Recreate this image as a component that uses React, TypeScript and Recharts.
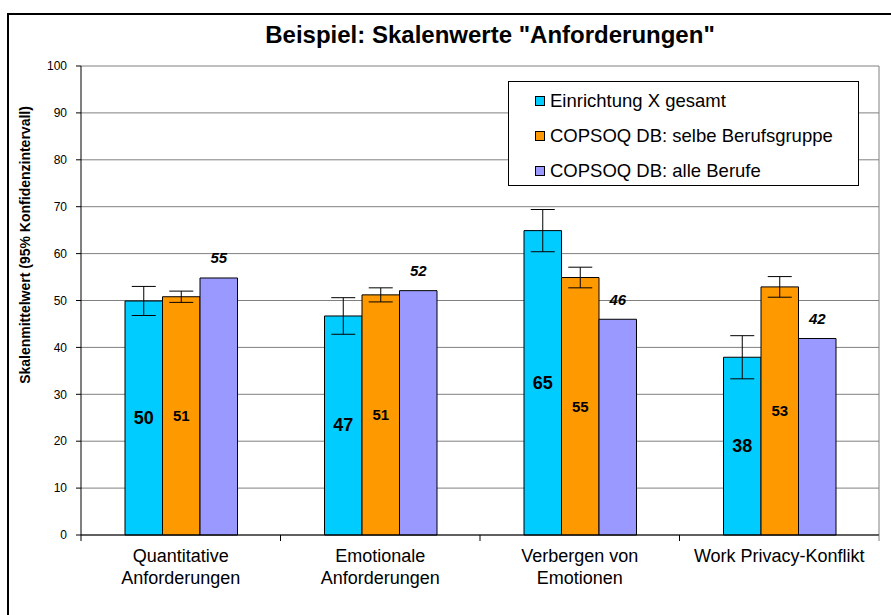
import { Bar, BarChart, CartesianGrid, ErrorBar, LabelList, XAxis, YAxis } from 'recharts';

const categories = [
  'Quantitative\nAnforderungen',
  'Emotionale\nAnforderungen',
  'Verbergen von\nEmotionen',
  'Work Privacy-Konflikt',
];

const einrichtung = [49.9, 46.7, 64.9, 37.9];
const einrichtungCI = [3.1, 3.9, 4.5, 4.6];
const berufsgruppe = [50.8, 51.2, 54.9, 52.9];
const berufsgruppeCI = [1.2, 1.5, 2.2, 2.2];
const alleBerufe = [54.8, 52.1, 46.0, 41.9];

const yTicks = [0, 10, 20, 30, 40, 50, 60, 70, 80, 90, 100];

const SERIES = [
  { key: 'einrichtung', name: 'Einrichtung X gesamt', color: '#00ccff' },
  { key: 'berufsgruppe', name: 'COPSOQ DB: selbe Berufsgruppe', color: '#ff9900' },
  { key: 'alle', name: 'COPSOQ DB: alle Berufe', color: '#9999ff' },
];

const data = categories.map((category, i) => ({
  category,
  einrichtung: einrichtung[i],
  einrichtungCI: einrichtungCI[i],
  berufsgruppe: berufsgruppe[i],
  berufsgruppeCI: berufsgruppeCI[i],
  alle: alleBerufe[i],
}));

const FONT = '"Liberation Sans", Arial, Helvetica, sans-serif';
const WIDTH = 891;
const HEIGHT = 615;
const MARGIN = { top: 66, right: 12, bottom: 0, left: 0 };
const Y_AXIS_WIDTH = 81;
const BAND = (WIDTH - MARGIN.right - Y_AXIS_WIDTH) / categories.length;

// eslint-disable-next-line @typescript-eslint/no-explicit-any
function CategoryTick({ x, y, payload, index }: any) {
  const lines = String(payload.value).split('\n');
  const left = x - BAND / 2;
  return (
    <g>
      <line x1={left} y1={y} x2={left} y2={y + 6} stroke="#000" />
      {index === categories.length - 1 && (
        <line x1={x + BAND / 2} y1={y} x2={x + BAND / 2} y2={y + 6} stroke="#808080" />
      )}
      <text x={x} y={y + 27} textAnchor="middle" fontSize={18} fill="#000" fontFamily={FONT}>
        {lines.map((line, i) => (
          <tspan key={i} x={x} dy={i === 0 ? 0 : 22}>
            {line}
          </tspan>
        ))}
      </text>
    </g>
  );
}

function CenterLabel(size: number) {
  // eslint-disable-next-line @typescript-eslint/no-explicit-any
  return function Label({ x, y, width, height, value }: any) {
    return (
      <text
        x={x + width / 2}
        y={y + height / 2}
        textAnchor="middle"
        dominantBaseline="central"
        fontSize={size}
        fontWeight="bold"
        fill="#000"
        fontFamily={FONT}
      >
        {Math.round(value)}
      </text>
    );
  };
}

// eslint-disable-next-line @typescript-eslint/no-explicit-any
function TopLabel({ x, y, width, value }: any) {
  return (
    <text
      x={x + width / 2}
      y={y - 20}
      textAnchor="middle"
      dominantBaseline="central"
      fontSize={15}
      fontWeight="bold"
      fontStyle="italic"
      fill="#000"
      fontFamily={FONT}
    >
      {Math.round(value)}
    </text>
  );
}

function BoxLegend() {
  return (
    <div
      style={{
        position: 'absolute',
        left: 508,
        top: 81,
        width: 351,
        height: 105,
        boxSizing: 'border-box',
        border: '1px solid #000',
        background: '#fff',
        paddingTop: 1,
        fontFamily: FONT,
      }}
    >
      {SERIES.map((s) => (
        <div
          key={s.key}
          style={{ display: 'flex', alignItems: 'center', height: 35, paddingLeft: 26, fontSize: 18.5, color: '#000' }}
        >
          <span
            style={{
              width: 8,
              height: 8,
              border: '1px solid #000',
              background: s.color,
              marginRight: 5,
            }}
          />
          <span>{s.name}</span>
        </div>
      ))}
    </div>
  );
}

export default function App() {
  return (
    <div style={{ position: 'absolute', left: 0, top: 0, width: WIDTH, height: HEIGHT, background: '#fff', overflow: 'hidden' }}>
      <div
        style={{
          position: 'absolute',
          left: 7,
          top: 13,
          width: WIDTH,
          height: HEIGHT,
          borderLeft: '2px solid #000',
          borderTop: '2px solid #000',
        }}
      />
      <div
        style={{
          position: 'absolute',
          left: 0,
          top: 21,
          width: 980,
          textAlign: 'center',
          fontFamily: FONT,
          fontWeight: 'bold',
          fontSize: 24,
          color: '#000',
        }}
      >
        Beispiel: Skalenwerte "Anforderungen"
      </div>
      <div style={{ position: 'absolute', left: 0, top: 0 }}>
        <BarChart width={WIDTH} height={HEIGHT} data={data} margin={MARGIN} barGap={0} barSize={37.5}>
          <CartesianGrid stroke="#808080" vertical verticalPoints={[879]} horizontal />
          <XAxis
            dataKey="category"
            height={80}
            tickSize={0}
            tickMargin={0}
            tickLine={false}
            axisLine={{ stroke: '#000' }}
            interval={0}
            tick={<CategoryTick />}
          />
          <YAxis
            width={Y_AXIS_WIDTH}
            domain={[0, 100]}
            ticks={yTicks}
            interval={0}
            tickSize={5}
            tickMargin={9}
            axisLine={{ stroke: '#000' }}
            tickLine={{ stroke: '#000' }}
            tick={{ fontSize: 12, fill: '#000', fontFamily: FONT }}
            label={{
              content: () => (
                <text
                  x={25}
                  y={245}
                  transform="rotate(-90 25 245)"
                  textAnchor="middle"
                  dominantBaseline="central"
                  fontSize={14}
                  fontWeight="bold"
                  fill="#000"
                  fontFamily={FONT}
                >
                  Skalenmittelwert (95% Konfidenzintervall)
                </text>
              ),
            }}
          />
          <Bar dataKey="einrichtung" name={SERIES[0].name} fill={SERIES[0].color} stroke="#000" isAnimationActive={false}>
            <ErrorBar dataKey="einrichtungCI" width={12} stroke="#000" strokeWidth={1} />
            <LabelList dataKey="einrichtung" content={CenterLabel(18)} />
          </Bar>
          <Bar dataKey="berufsgruppe" name={SERIES[1].name} fill={SERIES[1].color} stroke="#000" isAnimationActive={false}>
            <ErrorBar dataKey="berufsgruppeCI" width={12} stroke="#000" strokeWidth={1} />
            <LabelList dataKey="berufsgruppe" content={CenterLabel(15)} />
          </Bar>
          <Bar dataKey="alle" name={SERIES[2].name} fill={SERIES[2].color} stroke="#000" isAnimationActive={false}>
            <LabelList dataKey="alle" content={TopLabel} />
          </Bar>
        </BarChart>
      </div>
      <BoxLegend />
    </div>
  );
}
